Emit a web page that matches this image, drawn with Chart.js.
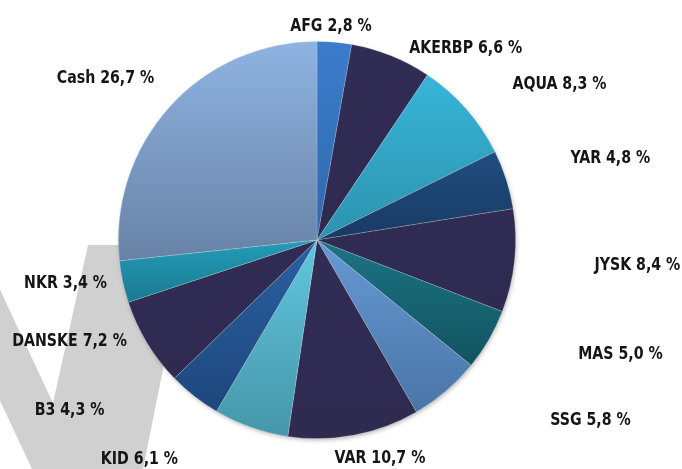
<html>
<head>
<meta charset="utf-8">
<script src="https://cdn.jsdelivr.net/npm/chart.js@4.4.0/dist/chart.umd.min.js"></script>
<style>
  html, body { margin: 0; padding: 0; background: #ffffff; }
  .chart-box { width: 682px; height: 469px; position: relative; }
</style>
</head>
<body>
<div class="chart-box">
  <canvas id="holdingsPie"></canvas>
</div>
<script>
  // holdings data
  let holdingNames = ["AFG", "AKERBP", "AQUA", "YAR", "JYSK", "MAS", "SSG", "VAR", "KID", "B3", "DANSKE", "NKR", "Cash"];
  let holdingShares = [2.8, 6.6, 8.3, 4.8, 8.4, 5.0, 5.8, 10.7, 6.1, 4.3, 7.2, 3.4, 26.7];

  // slice colours, top and bottom of the gradient
  let sliceTopColors = ["#3b7dcb", "#312c54", "#37b5d8", "#214d80", "#312c54", "#1c7385", "#6699d3", "#312c54", "#60c6de", "#2b60a2", "#312c54", "#239cb8", "#8fb3e2"];
  let sliceBottomColors = ["#2f69ad", "#2f2a50", "#2c93ae", "#183a62", "#2f2a50", "#11535f", "#4a75a7", "#2f2a50", "#4696a8", "#1d477c", "#2f2a50", "#1a7a90", "#6882a6"];

  // label spots, in pie radii from the centre
  let labelSpots = [
    [0.07, -1.075], [0.749, -0.965], [1.221, -0.784], [1.477, -0.412],
    [1.613, 0.126], [1.528, 0.575], [1.377, 0.91], [0.317, 1.1],
    [-0.894, 1.105], [-1.246, 0.86], [-1.246, 0.51], [-1.266, 0.216], [-1.065, -0.814]
  ];

  let labelFont = "bold 18px 'DejaVu Sans Condensed', 'DejaVu Sans', sans-serif";
  let labelSqueeze = 0.875;

  function sliceBox(chart, index) {
    let area = chart.chartArea;
    let cx = (area.left + area.right) / 2;
    let cy = (area.top + area.bottom) / 2;
    let r = Math.min(area.right - area.left, area.bottom - area.top) / 2;
    let total = holdingShares.reduce((a, b) => a + b, 0);
    let before = holdingShares.slice(0, index).reduce((a, b) => a + b, 0);
    let start = -Math.PI / 2 + 2 * Math.PI * before / total;
    let end = start + 2 * Math.PI * holdingShares[index] / total;
    let ys = [cy, cy + r * Math.sin(start), cy + r * Math.sin(end)];
    [-Math.PI / 2, Math.PI / 2, 3 * Math.PI / 2].forEach(a => {
      if (a >= start && a <= end) ys.push(cy + r * Math.sin(a));
    });
    return { top: Math.min(...ys), bottom: Math.max(...ys) };
  }

  function sliceFill(context) {
    let chart = context.chart;
    if (!chart.chartArea) return sliceTopColors[context.dataIndex];
    let box = sliceBox(chart, context.dataIndex);
    let g = chart.ctx.createLinearGradient(0, box.top, 0, box.bottom);
    g.addColorStop(0, sliceTopColors[context.dataIndex]);
    g.addColorStop(1, sliceBottomColors[context.dataIndex]);
    return g;
  }

  // grey "V" mark behind the chart
  const watermarkPlugin = {
    id: "watermark",
    beforeDraw(chart) {
      let ctx = chart.ctx;
      ctx.save();
      ctx.fillStyle = "#d0d0d0";
      ctx.beginPath();
      ctx.moveTo(-73, 245);
      ctx.lineTo(-21, 245);
      ctx.lineTo(53, 403);
      ctx.lineTo(88, 245);
      ctx.lineTo(188, 245);
      ctx.lineTo(143, 469);
      ctx.lineTo(32, 469);
      ctx.closePath();
      ctx.fill();
      ctx.restore();
    }
  };

  // soft shadow under the pie
  const pieShadowPlugin = {
    id: "pieShadow",
    beforeDatasetsDraw(chart) {
      let arc = chart.getDatasetMeta(0).data[0];
      if (!arc) return;
      let ctx = chart.ctx;
      ctx.save();
      ctx.shadowColor = "rgba(0,0,0,0.35)";
      ctx.shadowBlur = 5;
      ctx.shadowOffsetX = 1;
      ctx.shadowOffsetY = 2;
      ctx.fillStyle = "#ffffff";
      ctx.beginPath();
      ctx.arc(arc.x, arc.y, arc.outerRadius - 1, 0, Math.PI * 2);
      ctx.fill();
      ctx.restore();
    }
  };

  // outside labels "NAME x,y %"
  const sliceLabelPlugin = {
    id: "sliceLabels",
    afterDatasetsDraw(chart) {
      let arc = chart.getDatasetMeta(0).data[0];
      if (!arc) return;
      let ctx = chart.ctx;
      holdingNames.forEach((name, i) => {
        let text = name + " " + holdingShares[i].toFixed(1).replace(".", ",") + " %";
        let x = arc.x + labelSpots[i][0] * arc.outerRadius;
        let y = arc.y + labelSpots[i][1] * arc.outerRadius;
        ctx.save();
        ctx.font = labelFont;
        ctx.fillStyle = "#151515";
        ctx.textAlign = "center";
        ctx.textBaseline = "middle";
        ctx.translate(x, y);
        ctx.scale(labelSqueeze, 1);
        ctx.fillText(text, 0, 0);
        ctx.restore();
      });
    }
  };

  let ctx = document.getElementById("holdingsPie").getContext("2d");
  new Chart(ctx, {
    type: "pie",
    data: {
      labels: holdingNames,
      datasets: [{
        data: holdingShares,
        backgroundColor: sliceFill,
        borderColor: "rgba(255,255,255,0.22)",
        borderWidth: 0.8
      }]
    },
    options: {
      responsive: true,
      maintainAspectRatio: false,
      animation: false,
      layout: { padding: { left: 118, right: 166, top: 41, bottom: 30 } },
      plugins: {
        legend: { display: false },
        tooltip: { enabled: false }
      }
    },
    plugins: [watermarkPlugin, pieShadowPlugin, sliceLabelPlugin]
  });
</script>
</body>
</html>
